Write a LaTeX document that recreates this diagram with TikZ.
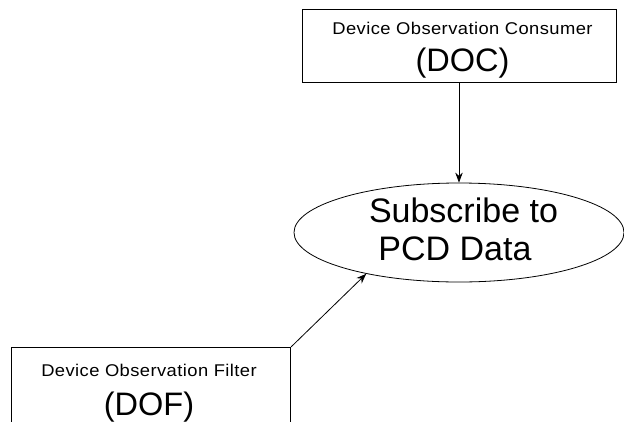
\documentclass[tikz,border=0pt]{standalone}
\usepackage{fontspec}
\setmainfont{Liberation Sans}
\newfontfamily\smallface[FakeStretch=1.08,LetterSpace=2.5]{Liberation Sans}
\usetikzlibrary{shapes.geometric,arrows.meta}
\begin{document}
\begin{tikzpicture}[x=1pt,y=-1pt,
 box/.style={draw, line width=0.8pt, rectangle, inner sep=0pt},
 oval/.style={draw, line width=0.8pt, ellipse, inner sep=0pt},
 conn/.style={line width=0.8pt, -{Stealth[length=10pt,width=7.5pt]}},
 smalltxt/.style={font=\smallface\fontsize{17}{20}\selectfont, anchor=base, inner sep=0pt},
 bigtxt/.style={font=\fontsize{32.5}{38}\selectfont, anchor=base, inner sep=0pt},
 elltxt/.style={font=\fontsize{34}{40}\selectfont, anchor=base, inner sep=0pt},
]
\useasboundingbox (0,0) rectangle (624,421);
\clip (0,0) rectangle (624,421);
\node[box, minimum width=313.5pt, minimum height=73.7pt] (doc) at (459.5,45.85) {};
\node[smalltxt] (doct1) at (462.5,34.3) {Device Observation Consumer};
\node[bigtxt] (doct2) at (462.5,71.7) {(DOC)};
\node[oval, minimum width=330pt, minimum height=99pt] (ell) at (459,232.5) {};
\node[elltxt] (ellt1) at (463.5,222.7) {Subscribe to};
\node[elltxt] (ellt2) at (455,260) {PCD Data};
\node[box, minimum width=279pt, minimum height=80pt] (dof) at (151.2,387.3) {};
\node[smalltxt] (doft1) at (149,376.3) {Device Observation Filter};
\node[bigtxt] (doft2) at (149,415) {(DOF)};
\draw[conn] (ell.north |- doc.south) -- (ell.north);
\draw[conn] (dof.north east) -- (ell.204);
\end{tikzpicture}
\end{document}
